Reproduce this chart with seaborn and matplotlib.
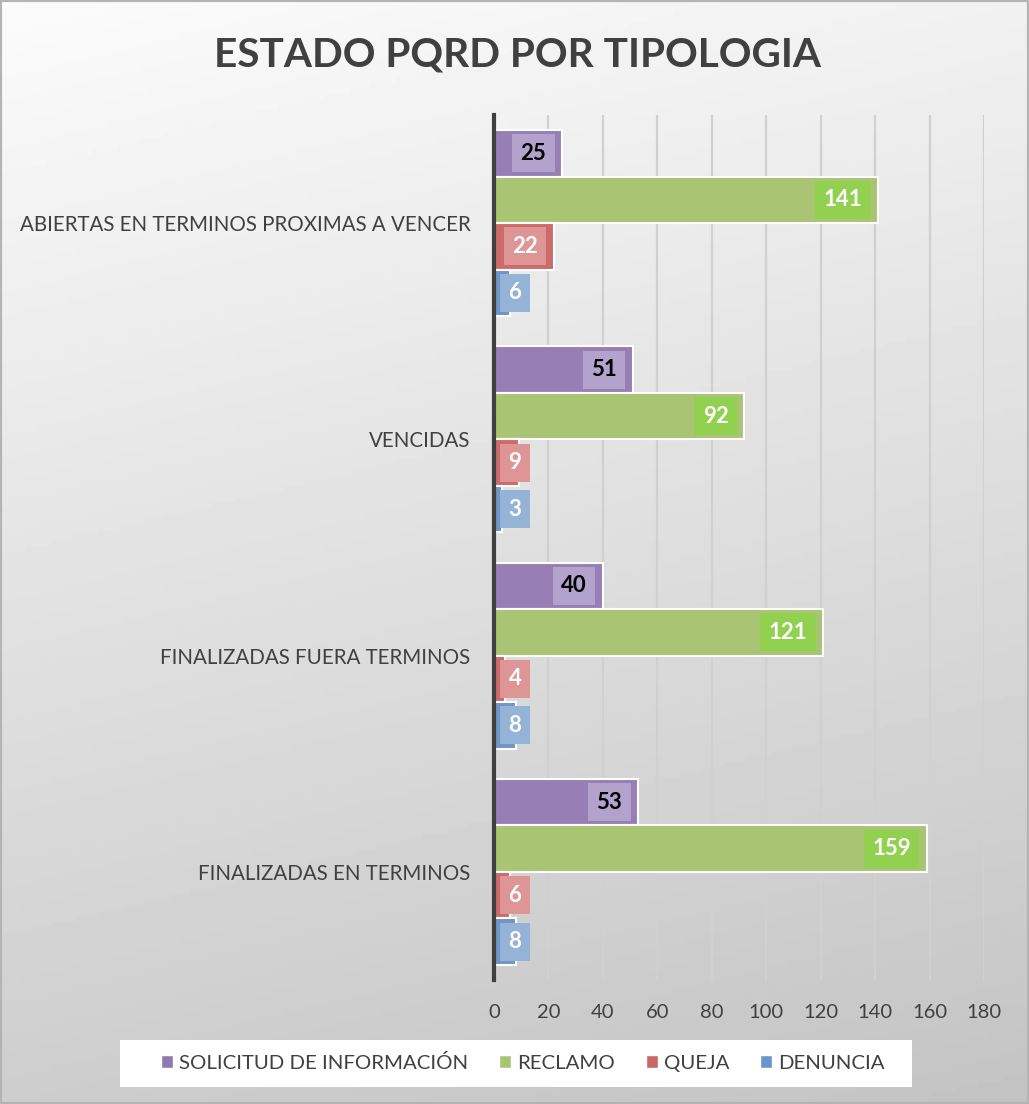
#!/usr/bin/env python
# coding: utf-8
#
import seaborn as sns
from matplotlib import pyplot as plt
from matplotlib.patches import Rectangle, Patch
import pandas as pd
import numpy as np

# data
estados = ['ABIERTAS EN TERMINOS PROXIMAS A VENCER', 'VENCIDAS',
           'FINALIZADAS FUERA TERMINOS', 'FINALIZADAS EN TERMINOS']
tipos = ['SOLICITUD DE INFORMACIÓN', 'RECLAMO', 'QUEJA', 'DENUNCIA']
solicitud = [25, 51, 40, 53]
reclamo = [141, 92, 121, 159]
queja = [22, 9, 4, 6]
denuncia = [6, 3, 8, 8]
x_ticks = [0, 20, 40, 60, 80, 100, 120, 140, 160, 180]

colores = ['#977fb6', '#a9c574', '#cd6b6b', '#6f96c8']
colores_leyenda = ['#8e79b4', '#a9c574', '#cc6666', '#6a95cb']
colores_etiqueta = ['#b3a2cc', '#92d050', '#de9595', '#95b3d7']
colores_texto = ['black', 'white', 'white', 'white']

df = pd.DataFrame({'estado': estados * 4,
                   'tipo': np.repeat(tipos, len(estados)),
                   'valor': solicitud + reclamo + queja + denuncia})

sns.set_style('white')
plt.rcParams['font.family'] = ['Lato', 'DejaVu Sans']
gris = '#404040'

W, H = 1029, 1104
fig = plt.figure(figsize=(W / 100, H / 100), dpi=100)

# gradient background
bg = fig.add_axes([0, 0, 1, 1], zorder=-1)
yy, xx = np.mgrid[0:1:200j, 0:1:200j]
grad = 0.985 - 0.18 * yy - 0.04 * xx
bg.imshow(grad, cmap='gray', vmin=0, vmax=1, aspect='auto', extent=(0, 1, 0, 1), origin='upper')
bg.set_axis_off()
fig.add_artist(Rectangle((0, 0), 1, 1, transform=fig.transFigure, fill=False,
                         ec='#b4b4b4', lw=3, zorder=1))

# bars
ax = fig.add_axes([494 / W, 1 - 980 / H, 490 / W, 865 / H])
ax.set_facecolor('none')
sns.barplot(data=df, x='valor', y='estado', hue='tipo', order=estados, hue_order=tipos,
            palette=colores, orient='h', width=0.86, saturation=1,
            edgecolor='white', linewidth=1.5, legend=False, ax=ax)

for i, cont in enumerate(ax.containers):
    for bar in cont:
        w = bar.get_width()
        yc = bar.get_y() + bar.get_height() / 2
        caja = dict(boxstyle='square,pad=0.38', fc=colores_etiqueta[i], ec='none')
        if w >= 15:
            ax.annotate(f'{w:.0f}', xy=(w, yc), xytext=(-11.5, 0), textcoords='offset points',
                        ha='right', va='center', fontsize=16, fontweight='bold',
                        color=colores_texto[i], bbox=caja)
        else:
            ax.text(7.7, yc, f'{w:.0f}', ha='center', va='center', fontsize=16,
                    fontweight='bold', color=colores_texto[i], bbox=caja)

ax.set_xlim(0, 180)
ax.set_ylim(3.5, -0.5)
ax.set_xticks(x_ticks)
ax.xaxis.grid(True, color='#d0d0d0', lw=1.6)
ax.set_axisbelow(True)
for s in ['top', 'right', 'bottom']:
    ax.spines[s].set_visible(False)
ax.spines['left'].set_color(gris)
ax.spines['left'].set_linewidth(3)
ax.spines['left'].set_zorder(5)
ax.tick_params(axis='both', length=0, labelcolor=gris)
ax.tick_params(axis='y', pad=17, labelsize=14.8)
ax.tick_params(axis='x', pad=17, labelsize=14.5)
ax.set_xlabel('')
ax.set_ylabel('')

# title
fig.text(517 / W, 1 - 55 / H, 'ESTADO PQRD POR TIPOLOGIA', fontsize=29.2, fontweight='bold',
         color=gris, ha='center', va='center')

# legend
fig.add_artist(Rectangle((120 / W, 17 / H), 792 / W, 47 / H, transform=fig.transFigure,
                         fc='white', ec='none', zorder=2))
handles = [Patch(facecolor=c) for c in colores_leyenda]
fig.legend(handles, tipos, loc='center', bbox_to_anchor=(523 / W, 1 - 1063 / H), ncol=4,
           frameon=False, fontsize=14.7, handlelength=0.6, handleheight=0.6,
           handletextpad=0.3, columnspacing=1.5, labelcolor=gris)

fig.savefig('out.png', dpi=100)
